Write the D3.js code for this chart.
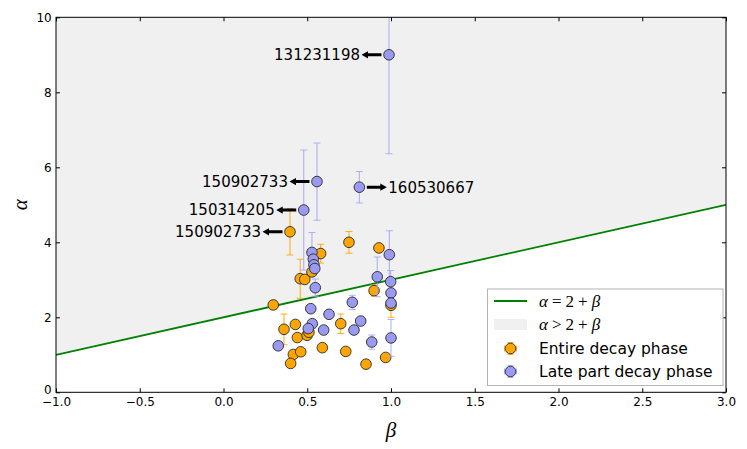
<!DOCTYPE html>
<html>
<head>
<meta charset="utf-8">
<script src="https://cdn.jsdelivr.net/npm/d3@7/dist/d3.min.js"></script>
<style>
  body { margin: 0; background: #fff; }
  svg { display: block; font-family: "DejaVu Sans", sans-serif; }
  .greek { font-family: "Liberation Serif", "DejaVu Serif", serif; font-style: italic; }
  .roman { font-family: "Liberation Serif", "DejaVu Serif", serif; }
</style>
</head>
<body>
<svg id="chart" width="747" height="449"></svg>
<script>
// alpha vs beta closure-relation plot (entire vs late decay phase)

// Entire decay phase (orange)
const entireBeta  = [0.397, 0.749, 0.928, 0.580, 0.528, 0.458, 0.485, 0.899, 0.297, 1.000, 0.361, 0.429,
                     0.700, 0.441, 0.499, 0.510, 0.417, 0.461, 0.401, 0.590, 0.730, 0.851, 0.968];
const entireAlpha = [4.28, 4.00, 3.85, 3.70, 3.21, 3.03, 3.01, 2.71, 2.33, 2.32, 1.68, 1.81,
                     1.83, 1.46, 1.52, 1.60, 1.01, 1.08, 0.77, 1.19, 1.09, 0.75, 0.93];
const entireErr   = [0.62, 0.29, 0.00, 0.25, 0.00, 0.52, 0.00, 0.15, 0.12, 0.32, 0.41, 0.00,
                     0.26, 0.00, 0.00, 0.00, 0.00, 0.00, 0.05, 0.00, 0.07, 0.05, 0.05];

// Late part decay phase (blue)
const lateBeta  = [0.988, 0.558, 0.811, 0.479, 0.528, 0.536, 0.540, 0.545, 0.548, 0.990, 0.918, 0.998,
                   1.000, 1.000, 1.000, 0.769, 0.521, 0.630, 0.819, 0.779, 0.598, 0.530, 0.506, 0.327, 0.885];
const lateAlpha = [9.00, 5.62, 5.47, 4.86, 3.73, 3.55, 3.40, 3.30, 2.79, 3.67, 3.08, 2.95,
                   2.65, 2.38, 1.45, 2.40, 2.23, 2.08, 1.90, 1.66, 1.66, 1.83, 1.70, 1.24, 1.34];
const lateErr   = [2.64, 1.03, 0.42, 1.60, 0.53, 0.00, 0.00, 0.00, 0.23, 0.64, 0.53, 0.30,
                   0.00, 0.00, 0.49, 0.19, 0.00, 0.00, 0.00, 0.00, 0.00, 0.00, 0.00, 0.00, 0.19];

// GRB annotations
const labelNames = ['131231198', '150902733', '150314205', '150902733', '160530667'];
const labelBeta  = [0.988, 0.558, 0.479, 0.397, 0.811];
const labelAlpha = [9.00, 5.62, 4.86, 4.28, 5.47];
const labelSide  = ['left', 'left', 'left', 'left', 'right'];

const xTicks = [-1, -0.5, 0, 0.5, 1, 1.5, 2, 2.5, 3];
const yTicks = [0, 2, 4, 6, 8, 10];
const xDomain = [-1, 3];
const yDomain = [0, 10];

const ORANGE = '#ffa500';
const BLUE = '#9a9af2';
const BLUE_ERR = '#a4a4fa';
const SHADE = '#f0f0f0';
const GREEN = '#008000';

const svg = d3.select('#chart');
const plot = { left: 56, right: 726, top: 17.3, bottom: 392.3 };

const x = d3.scaleLinear().domain(xDomain).range([plot.left, plot.right]);
const y = d3.scaleLinear().domain(yDomain).range([plot.bottom, plot.top]);

svg.append('defs').append('clipPath').attr('id', 'plotclip')
  .append('rect')
  .attr('x', plot.left).attr('y', plot.top)
  .attr('width', plot.right - plot.left).attr('height', plot.bottom - plot.top);

const inner = svg.append('g').attr('clip-path', 'url(#plotclip)');

// shaded region alpha > 2 + beta
const shadeArea = d3.area()
  .x((b) => x(b))
  .y0((b) => y(2 + b))
  .y1(() => y(yDomain[1]));
inner.append('path').datum(xDomain)
  .attr('d', shadeArea)
  .attr('fill', SHADE);

// alpha = 2 + beta
inner.append('path').datum(xDomain)
  .attr('d', d3.line().x((b) => x(b)).y((b) => y(2 + b)))
  .attr('fill', 'none')
  .attr('stroke', GREEN)
  .attr('stroke-width', 1.8);

function drawSeries(betas, alphas, errs, fill, errColor, errOpacity) {
  const pts = betas.map((b, i) => ({ b, a: alphas[i], e: errs[i] }));
  const g = inner.append('g');
  const withErr = pts.filter((p) => p.e > 0);
  const eg = g.append('g')
    .attr('stroke', errColor)
    .attr('stroke-opacity', errOpacity)
    .attr('stroke-width', 1.1);
  eg.selectAll('line.bar').data(withErr).join('line').attr('class', 'bar')
    .attr('x1', (p) => x(p.b)).attr('x2', (p) => x(p.b))
    .attr('y1', (p) => y(p.a - p.e)).attr('y2', (p) => y(p.a + p.e));
  eg.selectAll('line.capTop').data(withErr).join('line').attr('class', 'capTop')
    .attr('x1', (p) => x(p.b) - 3.5).attr('x2', (p) => x(p.b) + 3.5)
    .attr('y1', (p) => y(p.a + p.e)).attr('y2', (p) => y(p.a + p.e));
  eg.selectAll('line.capBot').data(withErr).join('line').attr('class', 'capBot')
    .attr('x1', (p) => x(p.b) - 3.5).attr('x2', (p) => x(p.b) + 3.5)
    .attr('y1', (p) => y(p.a - p.e)).attr('y2', (p) => y(p.a - p.e));
  g.selectAll('circle').data(pts).join('circle')
    .attr('cx', (p) => x(p.b))
    .attr('cy', (p) => y(p.a))
    .attr('r', 5.3)
    .attr('fill', fill)
    .attr('stroke', '#2a2a2a')
    .attr('stroke-width', 0.9);
}

drawSeries(entireBeta, entireAlpha, entireErr, ORANGE, ORANGE, 0.85);
drawSeries(lateBeta, lateAlpha, lateErr, BLUE, BLUE_ERR, 0.85);

// annotations with arrows pointing at the GRB name
const annot = svg.append('g');
labelNames.forEach((name, i) => {
  const px = x(labelBeta[i]);
  const py = y(labelAlpha[i]);
  const dir = labelSide[i] === 'left' ? -1 : 1;
  const tail = px + dir * 7.5;
  const neck = px + dir * 21;
  const tip = px + dir * 27.5;
  annot.append('path')
    .attr('d', `M${tail},${py - 1.5}L${neck},${py - 1.5}L${neck},${py - 3.6}L${tip},${py}` +
      `L${neck},${py + 3.6}L${neck},${py + 1.5}L${tail},${py + 1.5}Z`)
    .attr('fill', '#000');
  annot.append('text')
    .attr('x', tip + dir * 1.5)
    .attr('y', py)
    .attr('dy', '0.36em')
    .attr('text-anchor', dir < 0 ? 'end' : 'start')
    .attr('font-size', 15)
    .text(name);
});

// frame
svg.append('rect')
  .attr('x', plot.left).attr('y', plot.top)
  .attr('width', plot.right - plot.left).attr('height', plot.bottom - plot.top)
  .attr('fill', 'none').attr('stroke', '#000').attr('stroke-width', 1);

// axes with inward ticks on all sides
const fmtX = d3.format('.1f');
const bottomAxis = svg.append('g').attr('transform', `translate(0,${plot.bottom})`)
  .call(d3.axisBottom(x).tickValues(xTicks).tickSizeInner(-4).tickSizeOuter(0).tickPadding(5.5).tickFormat(fmtX));
const leftAxis = svg.append('g').attr('transform', `translate(${plot.left},0)`)
  .call(d3.axisLeft(y).tickValues(yTicks).tickSizeInner(-4).tickSizeOuter(0).tickPadding(4.3).tickFormat(d3.format('d')));
const topAxis = svg.append('g').attr('transform', `translate(0,${plot.top})`)
  .call(d3.axisTop(x).tickValues(xTicks).tickSizeInner(-4).tickSizeOuter(0).tickFormat(''));
const rightAxis = svg.append('g').attr('transform', `translate(${plot.right},0)`)
  .call(d3.axisRight(y).tickValues(yTicks).tickSizeInner(-4).tickSizeOuter(0).tickFormat(''));

[bottomAxis, leftAxis, topAxis, rightAxis].forEach((ax) => {
  ax.select('.domain').remove();
  ax.selectAll('text').attr('font-size', 12).attr('font-family', '"DejaVu Sans", sans-serif').attr('fill', '#000');
  ax.selectAll('line').attr('stroke', '#000');
});
// lift the "0" on the alpha axis a little so it clears the "−1.0" below it
leftAxis.selectAll('.tick').filter((d) => d === 0).select('text').attr('dy', '0.12em');

// axis labels
svg.append('text')
  .attr('class', 'greek')
  .attr('x', (plot.left + plot.right) / 2)
  .attr('y', 437)
  .attr('text-anchor', 'middle')
  .attr('font-size', 21)
  .text('β');
svg.append('text')
  .attr('class', 'greek')
  .attr('transform', `translate(27,${(plot.top + plot.bottom) / 2}) rotate(-90)`)
  .attr('text-anchor', 'middle')
  .attr('font-size', 21)
  .text('α');

// legend
const legend = svg.append('g');
legend.append('rect')
  .attr('x', 487.5).attr('y', 289)
  .attr('width', 235.5).attr('height', 96.5)
  .attr('fill', '#fff')
  .attr('stroke', '#b4b4b4').attr('stroke-width', 1);

const rowY = [301, 324.5, 348.5, 371.5];
const symX0 = 494, symX1 = 527, symMid = 510.5, textX = 539;

legend.append('line')
  .attr('x1', symX0).attr('x2', symX1).attr('y1', rowY[0]).attr('y2', rowY[0])
  .attr('stroke', GREEN).attr('stroke-width', 1.8);
legend.append('rect')
  .attr('x', symX0).attr('y', rowY[1] - 5.5).attr('width', symX1 - symX0).attr('height', 11)
  .attr('fill', SHADE);

function mathLabel(yy, rel) {
  const t = legend.append('text').attr('x', textX).attr('y', yy).attr('dy', '0.35em').attr('font-size', 17);
  t.append('tspan').attr('class', 'greek').text('α');
  t.append('tspan').attr('class', 'roman').attr('dx', 4).text(rel);
  t.append('tspan').attr('class', 'roman').attr('dx', 4).text('2');
  t.append('tspan').attr('class', 'roman').attr('dx', 4).text('+');
  t.append('tspan').attr('class', 'greek').attr('dx', 4).text('β');
}
mathLabel(rowY[0], '=');
mathLabel(rowY[1], '>');

function errMarker(yy, fill, errColor) {
  const g = legend.append('g').attr('stroke', errColor).attr('stroke-opacity', 0.85).attr('stroke-width', 1.1);
  g.append('line').attr('x1', symMid - 6).attr('x2', symMid + 6).attr('y1', yy).attr('y2', yy);
  g.append('line').attr('x1', symMid).attr('x2', symMid).attr('y1', yy - 6).attr('y2', yy + 6);
  g.append('line').attr('x1', symMid - 6).attr('x2', symMid - 6).attr('y1', yy - 3).attr('y2', yy + 3);
  g.append('line').attr('x1', symMid + 6).attr('x2', symMid + 6).attr('y1', yy - 3).attr('y2', yy + 3);
  g.append('line').attr('x1', symMid - 3).attr('x2', symMid + 3).attr('y1', yy - 6).attr('y2', yy - 6);
  g.append('line').attr('x1', symMid - 3).attr('x2', symMid + 3).attr('y1', yy + 6).attr('y2', yy + 6);
  legend.append('circle').attr('cx', symMid).attr('cy', yy).attr('r', 5.3)
    .attr('fill', fill).attr('stroke', '#2a2a2a').attr('stroke-width', 0.9);
}
errMarker(rowY[2], ORANGE, ORANGE);
errMarker(rowY[3], BLUE, BLUE_ERR);

legend.append('text').attr('x', textX).attr('y', rowY[2]).attr('dy', '0.36em')
  .attr('font-size', 15.5).text('Entire decay phase');
legend.append('text').attr('x', textX).attr('y', rowY[3]).attr('dy', '0.36em')
  .attr('font-size', 15.5).text('Late part decay phase');
</script>
</body>
</html>
